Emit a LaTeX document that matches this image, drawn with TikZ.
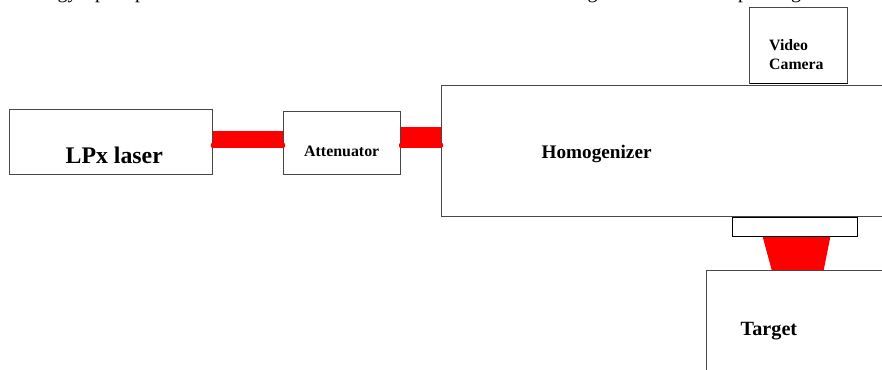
\documentclass[tikz,border=0pt]{standalone}
\usepackage{fontspec}
\setmainfont{Liberation Serif}
\tikzset{
  x=1pt,y=-1pt,
  box/.style={draw=black!72,line width=1.2pt,fill=white,rectangle,inner sep=0pt,outer sep=0pt,anchor=north west},
  lbl/.style={text=black,inner sep=0pt,anchor=base west},
  frag/.style={text=black,inner sep=0pt,anchor=base west,font=\fontsize{20}{20}\selectfont},
  beam/.style={fill=red,draw=none}
}
\begin{document}
\begin{tikzpicture}
\useasboundingbox (0,0) rectangle (882,369);
\clip (0,0) rectangle (882,369);
% cut-off line of text at the top edge
\node[frag] (f1) at (57.5,-1) {gy};
\node[frag] (f2) at (95,-1) {p};
\node[frag] (f3) at (135,-1) {p};
\node[frag] (f4) at (587.5,-1) {g};
\node[frag] (f5) at (738,-1) {p};
\node[frag] (f6) at (791,-1) {g};
% beams under the boxes
\fill[beam] (212,130.7) rectangle (284,147.7);
\fill[beam] (400,126.7) rectangle (441,147.7);
% boxes
\node[box,minimum width=203pt,minimum height=65pt] (laser) at (9.5,109.5) {};
\node[box,minimum width=117pt,minimum height=63pt] (atten) at (283.5,111.5) {};
\node[box,minimum width=500pt,minimum height=131pt] (homog) at (441.5,85.5) {};
\node[box,minimum width=98pt,minimum height=76pt] (camera) at (749.5,7.5) {};
\node[box,draw=black,minimum width=125pt,minimum height=19pt] (window) at (732.5,217.5) {};
\node[box,minimum width=240pt,minimum height=140pt] (target) at (706.5,270.5) {};
\draw[black,line width=1.5pt] (camera.south west) -- (camera.south east);
% beam parts over the boxes
\fill[beam] (762.7,237) -- (830.3,237) -- (823.7,270) -- (771.7,270) -- cycle;
\fill[beam,rounded corners=1pt] (210.8,143) rectangle (285,147.7);
\fill[beam,rounded corners=1pt] (399,143) rectangle (443,147.7);
% labels
\node[lbl,font=\bfseries\fontsize{23.8}{23.8}\selectfont] (tlaser) at (65.5,163.5) {LPx laser};
\node[lbl,font=\bfseries\fontsize{15.9}{15.9}\selectfont] (tatten) at (304,156) {Attenuator};
\node[lbl,font=\bfseries\fontsize{19.2}{19.2}\selectfont] (thomog) at (541.5,158) {Homogenizer};
\node[lbl,font=\bfseries\fontsize{15.8}{15.8}\selectfont] (tvideo) at (769,50) {Video};
\node[lbl,font=\bfseries\fontsize{15.8}{15.8}\selectfont] (tcam) at (769,69.5) {Camera};
\node[lbl,font=\bfseries\fontsize{20.2}{20.2}\selectfont] (ttarget) at (740.5,335) {Target};
\end{tikzpicture}
\end{document}
